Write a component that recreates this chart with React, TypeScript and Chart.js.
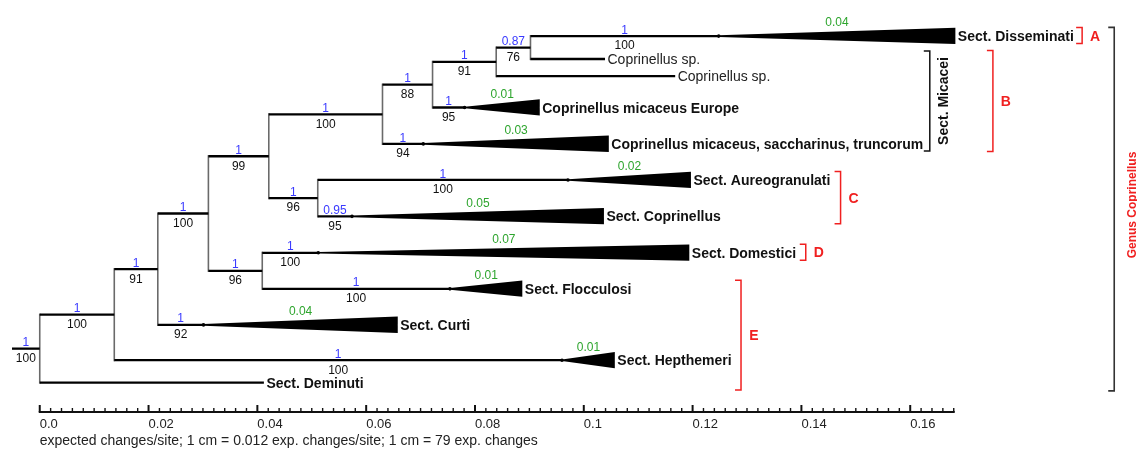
import React, { useEffect, useRef } from "react";
import { Chart, registerables } from "chart.js";

Chart.register(...registerables);

const FONT = "'Liberation Sans', Arial, Helvetica, sans-serif";

// ---------------- Tree data ----------------
// index:            0       1        2                 3        4                   5        6              7        8        9        10       11
const nodeLabels = ["", "", "Sect. Deminuti", "", "Sect. Hepthemeri", "", "Sect. Curti", "", "", "", "", "",
  // 12                                             13  14                              15  16                 17                   18
  "Coprinellus micaceus, saccharinus, truncorum", "", "Coprinellus micaceus Europe", "", "Coprinellus sp.", "Sect. Disseminati", "Coprinellus sp.",
  // 19                      20                    21                 22
  "Sect. Aureogranulati", "Sect. Coprinellus", "Sect. Domestici", "Sect. Flocculosi"];
const nodeParents = [-1, 0, 0, 1, 1, 3, 3, 5, 5, 7, 7, 9, 9, 11, 11, 13, 13, 15, 15, 10, 10, 8, 8];
// depth of each node (expected changes/site)
const nodeDepths = [0, 0.0137, 0.0412, 0.0217, 0.0960, 0.0310, 0.0301, 0.0421, 0.0409, 0.0630, 0.0511, 0.0722,
  0.0705, 0.0839, 0.0781, 0.0902, 0.1168, 0.1248, 0.1039, 0.0971, 0.0574, 0.0512, 0.0754];
// extent of collapsed clades (triangles)
const cladeDepths = [null, null, null, null, 0.1057, null, 0.0658, null, null, null, null, null,
  0.1046, null, 0.0919, null, null, 0.1683, null, 0.1197, 0.1037, 0.1194, 0.0887];
// order of tips, top to bottom (row index)
const tipRows = [null, null, 9.61, null, 8.99, null, 8.01, null, null, null, null, null,
  2.99, null, 1.98, null, 1.11, 0, 0.635, 3.99, 5.0, 6.01, 7.01];
const posteriors = ["1", "1", null, "1", "1", "1", "1", "1", "1", "1", "1", "1",
  "1", "1", "1", "0.87", null, "1", null, "1", "0.95", "1", "1"];
const bootstraps = ["100", "100", null, "91", "100", "100", "92", "99", "96", "100", "96", "88",
  "94", "91", "95", "76", null, "100", null, "100", "95", "100", "100"];
const cladeLengths = [null, null, null, null, "0.01", null, "0.04", null, null, null, null, null,
  "0.03", null, "0.01", null, null, "0.04", null, "0.02", "0.05", "0.07", "0.01"];
const plainTips = [16, 18];
const rootStubStart = -0.0051;

// ---------------- Axis ----------------
const axisTickValues = [0, 0.02, 0.04, 0.06, 0.08, 0.1, 0.12, 0.14, 0.16];
const axisTickLabels = ["0.0", "0.02", "0.04", "0.06", "0.08", "0.1", "0.12", "0.14", "0.16"];
const axisMinorStep = 0.002;
const axisMax = 0.168;
const axisTitle = "expected changes/site; 1 cm = 0.012 exp. changes/site; 1 cm = 79 exp. changes";

// ---------------- Group brackets ----------------
const groupLetters = ["A", "B", "C", "D", "E"];
const groupX = [0.1916, 0.1752, 0.1472, 0.1408, 0.1289];
const groupFirstTip = [17, 18, 19, 21, 22];
const groupLastTip = [17, 12, 20, 21, 2];
const sectionLabel = "Sect. Micacei";
const sectionX = 0.1636;
const sectionTips = [18, 12];
const genusLabel = "Genus Coprinellus";
const genusX = 0.1975;
const genusTips = [17, 2];

const BLUE = "#3a3aff";
const GREEN = "#2ea52e";
const RED = "#f02020";

function computeNodeRows(): number[] {
  const n = nodeParents.length;
  const rows: number[] = new Array(n).fill(NaN);
  const children: number[][] = Array.from({ length: n }, () => []);
  nodeParents.forEach((p, i) => { if (p >= 0) children[p].push(i); });
  const get = (i: number): number => {
    if (!isNaN(rows[i])) return rows[i];
    if (children[i].length === 0) { rows[i] = tipRows[i] as number; return rows[i]; }
    const cy = children[i].map(get);
    rows[i] = (Math.min(...cy) + Math.max(...cy)) / 2;
    return rows[i];
  };
  for (let i = 0; i < n; i++) get(i);
  return rows;
}

const treePlugin = {
  id: "treePlugin",
  beforeDatasetsDraw(chart: any) {
    const { ctx } = chart;
    const xs = chart.scales.x;
    const ys = chart.scales.y;
    const px = (v: number) => xs.getPixelForValue(v);
    const py = (v: number) => ys.getPixelForValue(v);
    const rows = computeNodeRows();
    const n = nodeParents.length;
    const children: number[][] = Array.from({ length: n }, () => []);
    nodeParents.forEach((p, i) => { if (p >= 0) children[p].push(i); });

    ctx.save();
    // vertical connectors
    ctx.strokeStyle = "#6a6a6a";
    ctx.lineWidth = 1.6;
    for (let i = 0; i < n; i++) {
      if (children[i].length === 0) continue;
      const cy = children[i].map((c) => rows[c]);
      const xp = px(nodeDepths[i]);
      ctx.beginPath();
      ctx.moveTo(xp, py(Math.min(...cy)) - 1.1);
      ctx.lineTo(xp, py(Math.max(...cy)) + 1.1);
      ctx.stroke();
    }
    // horizontal branches
    ctx.strokeStyle = "#000";
    ctx.lineWidth = 2.3;
    for (let i = 0; i < n; i++) {
      const start = nodeParents[i] >= 0 ? nodeDepths[nodeParents[i]] : rootStubStart;
      const yp = py(rows[i]);
      ctx.beginPath();
      ctx.moveTo(px(start), yp);
      ctx.lineTo(px(nodeDepths[i]), yp);
      ctx.stroke();
    }
    // collapsed clade triangles
    ctx.fillStyle = "#000";
    for (let i = 0; i < n; i++) {
      const cd = cladeDepths[i];
      if (cd == null) continue;
      const yp = py(rows[i]);
      ctx.beginPath();
      ctx.moveTo(px(nodeDepths[i]), yp - 0.8);
      ctx.lineTo(px(cd), yp - 8.3);
      ctx.lineTo(px(cd), yp + 8.0);
      ctx.lineTo(px(nodeDepths[i]), yp + 0.8);
      ctx.closePath();
      ctx.fill();
    }
    // tip labels
    ctx.textBaseline = "alphabetic";
    ctx.textAlign = "left";
    for (let i = 0; i < n; i++) {
      if (!nodeLabels[i]) continue;
      const plain = plainTips.includes(i);
      ctx.font = `${plain ? "normal" : "bold"} 14px ${FONT}`;
      ctx.fillStyle = plain ? "#222" : "#111";
      const end = cladeDepths[i] != null ? (cladeDepths[i] as number) : nodeDepths[i];
      ctx.fillText(nodeLabels[i], px(end) + 2.5, py(rows[i]) + 5);
    }
    // support values
    ctx.textAlign = "center";
    ctx.font = `12px ${FONT}`;
    for (let i = 0; i < n; i++) {
      const start = nodeParents[i] >= 0 ? nodeDepths[nodeParents[i]] : rootStubStart;
      const mid = (px(start) + px(nodeDepths[i])) / 2;
      const yp = py(rows[i]);
      if (posteriors[i]) {
        ctx.fillStyle = BLUE;
        ctx.fillText(posteriors[i] as string, mid, yp - 2.4);
      }
      if (bootstraps[i]) {
        ctx.fillStyle = "#111";
        ctx.fillText(bootstraps[i] as string, mid, yp + 13.3);
      }
      if (cladeLengths[i] && cladeDepths[i] != null) {
        ctx.fillStyle = GREEN;
        const cm = (px(nodeDepths[i]) + px(cladeDepths[i] as number)) / 2;
        ctx.fillText(cladeLengths[i] as string, cm, yp - 9.7);
      }
    }

    // ---------- axis ----------
    const axisY = 412;
    const x0 = px(0);
    const x1 = px(axisMax);
    ctx.strokeStyle = "#111";
    ctx.lineWidth = 2;
    ctx.beginPath();
    ctx.moveTo(x0 - 1, axisY);
    ctx.lineTo(x1 + 1, axisY);
    ctx.stroke();
    const nMinor = Math.round(axisMax / axisMinorStep);
    for (let k = 0; k <= nMinor; k++) {
      const v = k * axisMinorStep;
      const major = k % 10 === 0;
      const xp = px(v);
      ctx.lineWidth = major ? 2 : 1.4;
      ctx.beginPath();
      ctx.moveTo(xp, axisY);
      ctx.lineTo(xp, axisY - (major ? 7 : 4));
      ctx.stroke();
    }
    ctx.fillStyle = "#222";
    ctx.textAlign = "left";
    ctx.font = `13px ${FONT}`;
    axisTickValues.forEach((v, k) => {
      ctx.fillText(axisTickLabels[k], px(v), 428);
    });
    ctx.font = `14px ${FONT}`;
    ctx.fillText(axisTitle, x0, 445);

    // ---------- brackets ----------
    const bracket = (xv: number, yTop: number, yBot: number, color: string, w: number) => {
      const xp = px(xv);
      ctx.strokeStyle = color;
      ctx.lineWidth = w;
      ctx.beginPath();
      ctx.moveTo(xp - 6, yTop);
      ctx.lineTo(xp, yTop);
      ctx.lineTo(xp, yBot);
      ctx.lineTo(xp - 6, yBot);
      ctx.stroke();
      return xp;
    };
    groupLetters.forEach((L, k) => {
      const yTop = py(rows[groupFirstTip[k]]) - 8.5;
      const yBot = py(rows[groupLastTip[k]]) + 7.5;
      const xp = bracket(groupX[k], yTop, yBot, RED, 1.5);
      ctx.fillStyle = RED;
      ctx.font = `bold 14px ${FONT}`;
      ctx.textAlign = "center";
      ctx.fillText(L, xp + 13, (yTop + yBot) / 2 + 5);
    });
    {
      const yTop = py(rows[sectionTips[0]]) - 8;
      const yBot = py(rows[sectionTips[1]]) + 7;
      const xp = bracket(sectionX, yTop, yBot, "#111", 1.5);
      ctx.save();
      ctx.translate(xp + 18.5, (yTop + yBot) / 2);
      ctx.rotate(-Math.PI / 2);
      ctx.fillStyle = "#111";
      ctx.font = `bold 14px ${FONT}`;
      ctx.textAlign = "center";
      ctx.fillText(sectionLabel, 0, 0);
      ctx.restore();
    }
    {
      const yTop = py(rows[genusTips[0]]) - 8.7;
      const yBot = py(rows[genusTips[1]]) + 8.3;
      const xp = bracket(genusX, yTop, yBot, "#333", 1.6);
      ctx.save();
      ctx.translate(xp + 21.5, 205);
      ctx.rotate(-Math.PI / 2);
      ctx.fillStyle = RED;
      ctx.font = `bold 12px ${FONT}`;
      ctx.textAlign = "center";
      ctx.fillText(genusLabel, 0, 0);
      ctx.restore();
    }
    ctx.restore();
  },
};

export default function App() {
  const ref = useRef<HTMLCanvasElement | null>(null);
  useEffect(() => {
    if (!ref.current) return;
    const apexPoints: { x: number; y: number }[] = [];
    cladeDepths.forEach((c, i) => {
      if (c != null) apexPoints.push({ x: nodeDepths[i], y: tipRows[i] as number });
    });
    const chart = new Chart(ref.current, {
      type: "scatter",
      data: {
        datasets: [
          {
            data: apexPoints,
            pointRadius: 1.8,
            pointBackgroundColor: "#000",
            pointBorderWidth: 0,
            showLine: false,
          } as any,
        ],
      },
      options: {
        responsive: false,
        animation: false,
        layout: { padding: 0 },
        plugins: { legend: { display: false }, tooltip: { enabled: false }, title: { display: false } },
        events: [],
        scales: {
          x: { type: "linear", display: false, min: -0.00657, max: 0.20095 },
          y: { type: "linear", display: false, reverse: true, min: -0.891, max: 11.425 },
        },
      },
      plugins: [treePlugin],
    });
    return () => chart.destroy();
  }, []);
  return (
    <div style={{ position: "absolute", left: 0, top: 0, width: 1137, height: 452, background: "#fff" }}>
      <canvas ref={ref} width={1137} height={452} style={{ display: "block" }} />
    </div>
  );
}
